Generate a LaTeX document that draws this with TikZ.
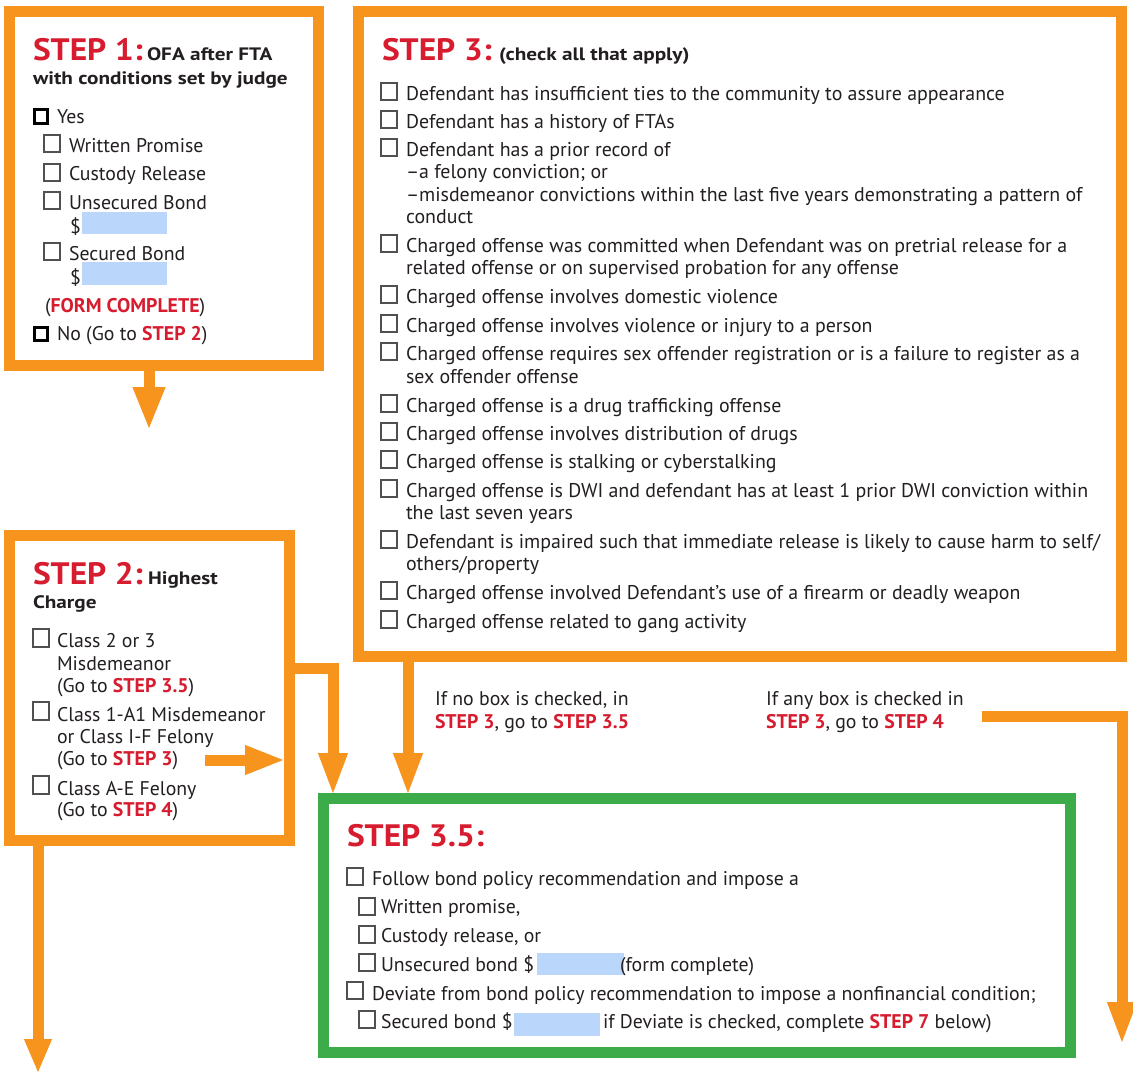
\documentclass[tikz,border=0pt]{standalone}
\usepackage{fontspec}
\setmainfont{PT Sans}
\newfontfamily\hdfont{PT Sans}[FakeStretch=1.08]
\newfontfamily\subfont{PT Sans}[FakeStretch=1.18]
\usetikzlibrary{arrows.meta}
\definecolor{orng}{RGB}{247,148,30}
\definecolor{stepred}{RGB}{214,28,46}
\definecolor{grn}{RGB}{60,172,74}
\definecolor{fieldblue}{RGB}{186,214,250}
\definecolor{txt}{RGB}{35,31,32}
\definecolor{cbgray}{RGB}{80,80,80}
\newcommand\stp[1]{\textcolor{stepred}{\bfseries #1}}
\newcommand\cbx[2]{\draw[cb] (#1,#2) rectangle ++(16,17);}
\begin{document}
\begin{tikzpicture}[x=1pt,y=-1pt,
 obox/.style={draw=orng, line width=11pt, inner sep=0pt, outer sep=0pt, fill=white},
 gbox/.style={draw=grn, line width=11pt, inner sep=0pt, outer sep=0pt, fill=white},
 tx/.style={anchor=base west, inner sep=0pt, outer sep=0pt, text=txt, font=\fontsize{19.8}{22}\selectfont},
 tx3/.style={tx, font=\fontsize{19.9}{22}\selectfont},
 hd/.style={anchor=base west, inner sep=0pt, outer sep=0pt, text=stepred, font=\hdfont\fontsize{31}{31}\selectfont\bfseries},
 sub/.style={anchor=base west, inner sep=0pt, outer sep=0pt, text=txt, font=\subfont\fontsize{18}{20}\selectfont\bfseries},
 cb/.style={draw=cbgray, line width=1.2pt, fill=white},
 cbk/.style={draw=black, line width=3pt},
 fld/.style={fill=fieldblue, draw=none},
 arr/.style={draw=orng, line width=11pt, line join=miter, -{Triangle[width=30pt,length=40pt,line width=1pt]}}]
\useasboundingbox (0,0) rectangle (1133,1072);
% boxes
\node[obox, minimum width=309pt, minimum height=354pt] (s1) at (163.5,188) {};
\node[obox, minimum width=763pt, minimum height=645pt] (s3) at (739.5,333.5) {};
\node[obox, minimum width=280pt, minimum height=305pt] (s2) at (149,687.5) {};
\node[gbox, minimum width=747pt, minimum height=254pt] (s35) at (696.5,925) {};
% arrows
\coordinate (e1) at (149,428);
\draw[arr, -{Triangle[width=33pt,length=41pt,line width=1pt]}] (e1 |- s1.south) -- (e1);
\coordinate (e2) at (38,1072);
\draw[arr, -{Triangle[width=28pt,length=33pt,line width=1pt]}] (e2 |- s2.south) -- (e2);
\coordinate (a3s) at (205,760);
\coordinate (a3e) at (283,760);
\draw[arr, -{Triangle[width=30pt,length=38pt,line width=1pt]}] (a3s) -- (a3e);
\coordinate (c4) at (333,668);
\draw[arr, shorten >=5pt] (c4 -| s2.east) -- (c4) -- (c4 |- s35.north);
\coordinate (c5) at (408,0);
\draw[arr, shorten >=5pt] (c5 |- s3.south) -- (c5 |- s35.north);
\coordinate (r1) at (982,716);
\coordinate (r3) at (1122,1042);
\draw[arr] (r1) -- (r1 -| r3) -- (r3);
% STEP 1
\node[hd] (h1) at (33,60) {STEP 1:};
\node[sub] (h1a) at (147,60) {OFA after FTA};
\node[sub] (h1b) at (33,84) {with conditions set by judge};
\draw[cbk] (34,109) rectangle (47,123);
\node[tx] (y1) at (57,123) {Yes};
\cbx{44}{135}
\node[tx] (y2) at (69,152) {Written Promise};
\cbx{44}{164}
\node[tx] (y3) at (69,180) {Custody Release};
\cbx{44}{192}
\node[tx] (y4) at (69,209) {Unsecured Bond};
\node[tx] (y4d) at (70,233) {\$};
\fill[fld] (82,212) rectangle (167,234);
\cbx{44}{243}
\node[tx] (y5) at (69,260) {Secured Bond};
\node[tx] (y5d) at (70,284) {\$};
\fill[fld] (82,262) rectangle (167,285);
\node[tx] (y6) at (45,312) {(\stp{FORM COMPLETE})};
\draw[cbk] (34,327) rectangle (47,340);
\node[tx] (n1) at (57,340) {No (Go to \stp{STEP 2})};
% STEP 2
\node[hd] (h2) at (33,584) {STEP 2:};
\node[sub] (h2a) at (148,584) {Highest};
\node[sub] (h2b) at (33,608) {Charge};
\draw[cb] (33,629) rectangle ++(16,18);
\node[tx] (c21) at (57,647) {Class 2 or 3};
\node[tx] (c21b) at (57,670) {Misdemeanor};
\node[tx] (c21c) at (57,692) {(Go to \stp{STEP 3.5})};
\draw[cb] (33,702) rectangle ++(16,18);
\node[tx] (c22) at (57,721) {Class 1-A1 Misdemeanor};
\node[tx] (c22b) at (57,743) {or Class I-F Felony};
\node[tx] (c22c) at (57,765) {(Go to \stp{STEP 3})};
\draw[cb] (33,776) rectangle ++(16,18);
\node[tx] (c23) at (57,795) {Class A-E Felony};
\node[tx] (c23b) at (57,816) {(Go to \stp{STEP 4})};
% STEP 3
\node[hd] (h3) at (382,60) {STEP 3:};
\node[sub] (h3a) at (499,60) {(check all that apply)};
\cbx{381}{83}  \node[tx3] (t1) at (406,100) {Defendant has insufficient ties to the community to assure appearance};
\cbx{381}{111} \node[tx3] (t2) at (406,128) {Defendant has a history of FTAs};
\cbx{381}{139} \node[tx3] (t3) at (406,156) {Defendant has a prior record of};
\node[tx3] (t3b) at (406,178) {\textendash a felony conviction; or};
\node[tx3] (t3c) at (406,201) {\textendash misdemeanor convictions within the last five years demonstrating a pattern of};
\node[tx3] (t3d) at (406,223) {conduct};
\cbx{381}{235} \node[tx3] (t4) at (406,252) {Charged offense was committed when Defendant was on pretrial release for a};
\node[tx3] (t4b) at (406,274) {related offense or on supervised probation for any offense};
\cbx{381}{286} \node[tx3] (t5) at (406,303) {Charged offense involves domestic violence};
\cbx{381}{315} \node[tx3] (t6) at (406,332) {Charged offense involves violence or injury to a person};
\cbx{381}{343} \node[tx3] (t7) at (406,360) {Charged offense requires sex offender registration or is a failure to register as a};
\node[tx3] (t7b) at (406,383) {sex offender offense};
\cbx{381}{395} \node[tx3] (t8) at (406,412) {Charged offense is a drug trafficking offense};
\cbx{381}{423} \node[tx3] (t9) at (406,440) {Charged offense involves distribution of drugs};
\cbx{381}{451} \node[tx3] (t10) at (406,468) {Charged offense is stalking or cyberstalking};
\cbx{381}{480} \node[tx3] (t11) at (406,497) {Charged offense is DWI and defendant has at least 1 prior DWI conviction within};
\node[tx3] (t11b) at (406,519) {the last seven years};
\cbx{381}{531} \node[tx3] (t12) at (406,548) {Defendant is impaired such that immediate release is likely to cause harm to self/};
\node[tx3] (t12b) at (406,570) {others/property};
\cbx{381}{582} \node[tx3] (t13) at (406,599) {Charged offense involved Defendant’s use of a firearm or deadly weapon};
\cbx{381}{611} \node[tx3] (t14) at (406,628) {Charged offense related to gang activity};
% middle notes
\node[tx] (m1) at (435,705) {If no box is checked, in};
\node[tx] (m1b) at (435,728) {\stp{STEP 3}, go to \stp{STEP 3.5}};
\node[tx] (m2) at (766,705) {If any box is checked in};
\node[tx] (m2b) at (766,728) {\stp{STEP 3}, go to \stp{STEP 4}};
% STEP 3.5
\node[hd] (h35) at (347,846) {STEP 3.5:};
\cbx{347}{868} \node[tx] (f1) at (372,885) {Follow bond policy recommendation and impose a};
\cbx{359}{898} \node[tx] (f2) at (381,913) {Written promise,};
\cbx{359}{926} \node[tx] (f3) at (381,942) {Custody release, or};
\cbx{359}{954} \node[tx] (f4) at (381,971) {Unsecured bond \$};
\fill[fld] (537,953) rectangle (624,975);
\node[tx] (f4b) at (620,971) {(form complete)};
\cbx{347}{982} \node[tx] (f5) at (372,1000) {Deviate from bond policy recommendation to impose a nonfinancial condition;};
\cbx{359}{1011} \node[tx] (f6) at (381,1028) {Secured bond \$};
\fill[fld] (514,1013) rectangle (600,1036);
\node[tx] (f6b) at (603,1028) {if Deviate is checked, complete \stp{STEP 7} below)};
\end{tikzpicture}
\end{document}
